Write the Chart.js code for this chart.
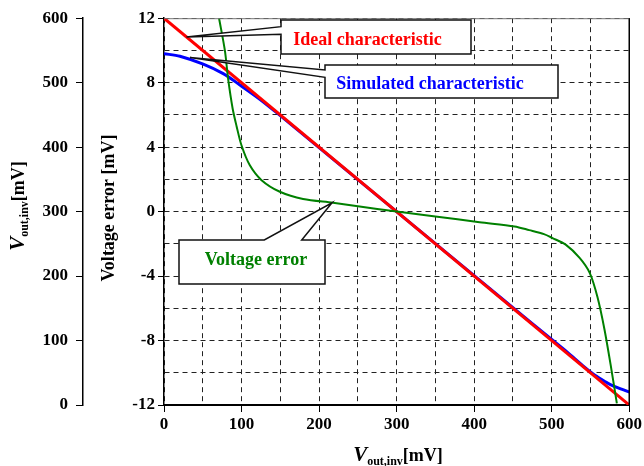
<!DOCTYPE html>
<html>
<head>
<meta charset="utf-8">
<script src="https://cdn.jsdelivr.net/npm/chart.js@4/dist/chart.umd.min.js"></script>
<style>
  body { margin: 0; background: #fff; }
</style>
</head>
<body>
<canvas id="chart" width="644" height="466"></canvas>
<script>
// x axis: V_out,inv in mV
const xLabelTicks = [0, 100, 200, 300, 400, 500, 600];
// left outer axis: V_out,inv in mV
const vLabelTicks = [0, 100, 200, 300, 400, 500, 600];
// inner axis: voltage error in mV
const errLabelTicks = [-12, -8, -4, 0, 4, 8, 12];

const idealX = [0, 600];
const idealY = [600, 0];

const simX = [0, 20.6, 50.6, 76.4, 97.9, 123.6, 150, 200, 250, 300, 350, 400, 450, 500, 520, 540, 553, 565, 575, 590, 600];
const simY = [545, 541, 528.7, 514, 496.4, 474.3, 448.8, 399.3, 349.7, 300, 250.3, 200.6, 150.9, 101.6, 82, 61, 48.5, 39, 32, 24.5, 20];

const errX = [71, 78.5, 82.8, 88.5, 93.6, 100, 110.7, 125.8, 149.4, 179.4, 218, 250, 300, 350, 407, 452, 471, 490, 501, 518, 536, 549, 559, 568, 577, 584];
const errY = [12, 10, 8.2, 6.4, 5.3, 4.1, 2.87, 1.95, 1.23, 0.78, 0.55, 0.33, 0, -0.3, -0.66, -0.92, -1.15, -1.4, -1.64, -2.05, -2.87, -3.8, -5.3, -7.3, -9.8, -11.9];

const FONT = "'Liberation Serif', 'Times New Roman', serif";

function pts(xs, ys) {
    return xs.map((x, i) => ({ x: x, y: ys[i] }));
}

// callout boxes (pixel layout), tips point at data
const callouts = [
    { text: 'Ideal characteristic', color: '#ff0000', box: [281, 20, 471, 54], side: 'left', base: [26.7, 34.3],
      tip: { x: 29, y: 571, axis: 'yV' }, tx: 367.5, ty: 44.5 },
    { text: 'Simulated characteristic', color: '#0000ff', box: [325, 65, 558, 98], side: 'left', base: [70, 77.3],
      tip: { x: 33.5, y: 539, axis: 'yV' }, tx: 430, ty: 88.5 },
    { text: 'Voltage error', color: '#008000', box: [179, 240, 325, 284], side: 'top', base: [264.3, 301.7],
      tip: { x: 216.7, y: 0.55, axis: 'yE' }, tx: 256, ty: 265 }
];

function drawRun(ctx, parts, cx, cy) {
    // parts: [text, font, dy]
    let total = 0;
    parts.forEach(p => { ctx.font = p[1]; total += ctx.measureText(p[0]).width; });
    let x = cx - total / 2;
    ctx.textAlign = 'left';
    ctx.textBaseline = 'alphabetic';
    parts.forEach(p => {
        ctx.font = p[1];
        ctx.fillText(p[0], x, cy + p[2]);
        x += ctx.measureText(p[0]).width;
    });
}

const extras = {
    id: 'extras',
    afterDatasetsDraw(chart) {
        const ctx = chart.ctx;
        const a = chart.chartArea;
        ctx.save();
        // frame top / right
        ctx.strokeStyle = '#777';
        ctx.lineWidth = 1;
        ctx.beginPath();
        ctx.moveTo(a.left, a.top + 0.5);
        ctx.lineTo(a.right, a.top + 0.5);
        ctx.stroke();
        ctx.strokeStyle = '#000';
        ctx.lineWidth = 1.5;
        ctx.beginPath();
        ctx.moveTo(a.right, a.top);
        ctx.lineTo(a.right, a.bottom);
        ctx.stroke();

        // callouts
        callouts.forEach(c => {
            const tx = chart.scales.x.getPixelForValue(c.tip.x);
            const ty = chart.scales[c.tip.axis].getPixelForValue(c.tip.y);
            const [l, t, r, b] = c.box;
            ctx.beginPath();
            if (c.side === 'left') {
                ctx.moveTo(l, t); ctx.lineTo(r, t); ctx.lineTo(r, b); ctx.lineTo(l, b);
                ctx.lineTo(l, c.base[1]); ctx.lineTo(tx, ty); ctx.lineTo(l, c.base[0]);
            } else {
                ctx.moveTo(l, t); ctx.lineTo(c.base[0], t); ctx.lineTo(tx, ty); ctx.lineTo(c.base[1], t);
                ctx.lineTo(r, t); ctx.lineTo(r, b); ctx.lineTo(l, b);
            }
            ctx.closePath();
            ctx.fillStyle = '#fff';
            ctx.fill();
            ctx.strokeStyle = '#111';
            ctx.lineWidth = 1.5;
            ctx.stroke();
            ctx.fillStyle = c.color;
            ctx.font = 'bold 18px ' + FONT;
            ctx.textAlign = 'center';
            ctx.textBaseline = 'alphabetic';
            ctx.fillText(c.text, c.tx, c.ty);
        });

        // axis titles
        ctx.fillStyle = '#000';
        drawRun(ctx, [
            ['V', 'bold italic 21px ' + FONT, 0],
            ['out,inv', 'bold 12px ' + FONT, 4],
            ['[mV]', 'bold 18px ' + FONT, 0]
        ], 398, 461);

        ctx.save();
        ctx.translate(114, 208);
        ctx.rotate(-Math.PI / 2);
        ctx.font = 'bold 18px ' + FONT;
        ctx.textAlign = 'center';
        ctx.fillText('Voltage error [mV]', 0, 0);
        ctx.restore();

        ctx.save();
        ctx.translate(24, 206);
        ctx.rotate(-Math.PI / 2);
        drawRun(ctx, [
            ['V', 'bold italic 21px ' + FONT, 0],
            ['out,inv', 'bold 12px ' + FONT, 4],
            ['[mV]', 'bold 18px ' + FONT, 0]
        ], 0, 0);
        ctx.restore();

        ctx.restore();
    }
};

const tickFont = { family: FONT, size: 17, weight: 'bold' };

new Chart(document.getElementById('chart'), {
    type: 'line',
    data: {
        datasets: [
            { label: 'Voltage error', data: pts(errX, errY), yAxisID: 'yE', borderColor: '#008000', borderWidth: 2,
              tension: 0.3, pointRadius: 0, fill: false },
            { label: 'Ideal characteristic', data: pts(idealX, idealY), yAxisID: 'yV', borderColor: '#ff0000', borderWidth: 3,
              pointRadius: 0, fill: false },
            { label: 'Simulated characteristic', data: pts(simX, simY), yAxisID: 'yV', borderColor: '#0000ff', borderWidth: 3,
              tension: 0.3, pointRadius: 0, fill: false }
        ]
    },
    options: {
        responsive: false,
        animation: false,
        devicePixelRatio: 1,
        layout: { padding: { top: 15, right: 13, left: 0, bottom: 0 } },
        plugins: { legend: { display: false }, tooltip: { enabled: false } },
        scales: {
            x: {
                type: 'linear', position: 'bottom', min: 0, max: 600,
                afterFit: s => { s.height = 61; },
                ticks: { stepSize: 50, autoSkip: false, maxRotation: 0, padding: 2, color: '#000', font: tickFont,
                         callback: v => xLabelTicks.includes(v) ? v : '' },
                grid: { color: '#222', lineWidth: 1, tickLength: 7,
                        tickColor: c => xLabelTicks.includes(c.tick.value) ? '#000' : 'rgba(0,0,0,0)' },
                border: { display: true, color: '#000', width: 2, dash: [5, 4] }
            },
            yE: {
                type: 'linear', position: 'left', min: -12, max: 12, weight: 0,
                afterFit: s => { s.width = 81; },
                ticks: { stepSize: 2, autoSkip: false, padding: 3, color: '#000', font: tickFont,
                         callback: v => errLabelTicks.includes(v) ? v : '' },
                grid: { color: '#222', lineWidth: 1, tickLength: 6,
                        tickColor: c => errLabelTicks.includes(c.tick.value) ? '#000' : 'rgba(0,0,0,0)' },
                border: { display: true, color: '#000', width: 1.5, dash: [5, 4] }
            },
            yV: {
                type: 'linear', position: 'left', min: 0, max: 600, weight: 1,
                afterFit: s => { s.width = 83; },
                ticks: { stepSize: 100, autoSkip: false, padding: 8, color: '#000', font: tickFont,
                         callback: v => vLabelTicks.includes(v) ? v : '' },
                grid: { drawOnChartArea: false, tickLength: 7, color: '#000', tickColor: '#000' },
                border: { display: true, color: '#000', width: 1.5 }
            }
        }
    },
    plugins: [extras]
});
</script>
</body>
</html>
